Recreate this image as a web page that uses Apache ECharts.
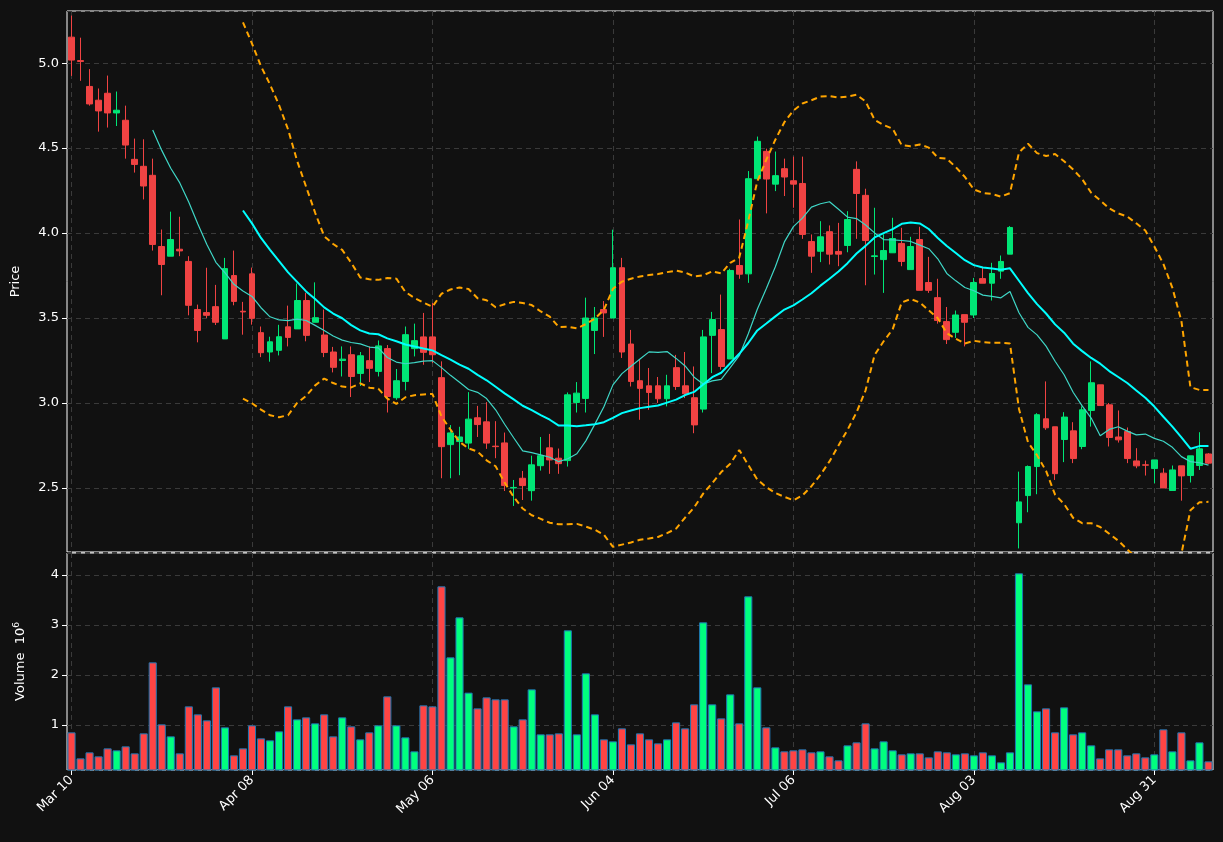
<!DOCTYPE html>
<html><head><meta charset="utf-8">
<script src="https://cdn.jsdelivr.net/npm/echarts@6/dist/echarts.min.js"></script>
<style>html,body{margin:0;padding:0;background:#111111;}#c{width:1223px;height:842px;}</style>
</head><body><div id="c"></div>
<script>
const tickLabels = ['Mar 10','Apr 08','May 06','Jun 04','Jul 06','Aug 03','Aug 31'];
const opens = [5.153,5.015,4.863,4.782,4.823,4.707,4.664,4.434,4.393,4.340,3.921,3.864,3.905,3.833,3.550,3.532,3.567,3.377,3.750,3.540,
3.760,3.414,3.300,3.310,3.448,3.436,3.603,3.475,3.400,3.300,3.250,3.284,3.174,3.249,3.186,3.320,3.031,3.127,3.320,3.389,
3.389,3.149,2.755,2.773,2.764,2.913,2.889,2.746,2.765,2.500,2.557,2.484,2.631,2.736,2.675,2.661,3.003,3.027,3.427,3.550,
3.500,3.796,3.347,3.131,3.101,3.101,3.025,3.208,3.101,3.031,2.964,3.398,3.432,3.259,3.809,3.760,4.320,4.481,4.288,4.379,
4.308,4.292,3.950,3.893,4.008,3.892,3.927,4.375,4.222,3.862,3.844,3.884,3.939,3.785,3.962,3.709,3.620,3.479,3.416,3.520,
3.518,3.732,3.705,3.776,3.876,2.295,2.455,2.626,2.907,2.860,2.785,2.836,2.744,2.956,3.107,2.989,2.800,2.832,2.659,2.636,
2.614,2.587,2.485,2.630,2.573,2.632,2.700];
const closes = [5.018,5.010,4.760,4.719,4.707,4.723,4.518,4.404,4.277,3.933,3.815,3.962,3.895,3.575,3.427,3.516,3.475,3.791,3.598,3.536,
3.498,3.296,3.360,3.390,3.386,3.603,3.398,3.502,3.297,3.210,3.258,3.156,3.278,3.204,3.336,3.038,3.131,3.402,3.367,3.298,
3.284,2.743,2.824,2.800,2.905,2.873,2.764,2.743,2.514,2.503,2.514,2.636,2.690,2.665,2.643,3.048,3.058,3.500,3.500,3.530,
3.796,3.300,3.127,3.086,3.062,3.025,3.101,3.097,3.054,2.871,3.389,3.491,3.215,3.780,3.758,4.320,4.540,4.318,4.338,4.330,
4.288,3.992,3.864,3.978,3.876,3.876,4.080,4.233,3.956,3.866,3.897,3.968,3.833,3.921,3.663,3.663,3.486,3.373,3.518,3.475,
3.709,3.705,3.762,3.833,4.033,2.418,2.626,2.931,2.854,2.584,2.917,2.673,2.960,3.119,2.985,2.797,2.783,2.673,2.630,2.634,
2.665,2.500,2.606,2.571,2.689,2.730,2.646];
const highs = [5.280,5.150,4.965,4.851,4.927,4.833,4.750,4.556,4.552,4.438,4.021,4.126,4.096,3.864,3.579,3.796,3.695,3.854,3.897,3.595,
3.797,3.450,3.390,3.460,3.573,3.703,3.648,3.710,3.550,3.330,3.333,3.333,3.300,3.333,3.368,3.341,3.200,3.450,3.467,3.530,
3.589,3.245,2.870,2.860,3.064,2.983,3.005,2.893,2.826,2.547,2.600,2.690,2.800,2.818,2.732,3.062,3.123,3.620,3.565,3.600,
4.020,3.854,3.430,3.255,3.206,3.153,3.166,3.283,3.300,3.215,3.430,3.536,3.638,3.790,4.080,4.365,4.568,4.497,4.480,4.438,
4.450,4.450,3.992,4.070,4.045,4.060,4.129,4.422,4.261,4.149,3.992,4.090,4.031,3.978,4.037,3.860,3.731,3.565,3.544,3.520,
3.736,3.796,3.825,3.868,4.041,2.596,2.632,2.940,3.127,2.860,2.946,2.887,2.980,3.245,3.107,3.000,2.956,2.856,2.734,2.661,
2.665,2.616,2.632,2.630,2.689,2.828,2.705];
const lows = [4.925,4.896,4.750,4.597,4.621,4.630,4.438,4.356,4.198,3.897,3.634,3.864,3.864,3.516,3.357,3.500,3.459,3.377,3.575,3.402,
3.461,3.270,3.243,3.280,3.333,3.436,3.363,3.475,3.270,3.180,3.156,3.035,3.100,3.123,3.156,2.944,3.019,3.074,3.274,3.225,
3.235,2.557,2.557,2.575,2.730,2.800,2.730,2.675,2.482,2.394,2.429,2.425,2.602,2.583,2.583,2.626,2.944,2.944,3.288,3.389,
3.500,3.265,3.097,2.901,2.960,3.000,2.980,3.077,3.029,2.822,2.944,3.176,3.196,3.259,3.731,3.707,4.320,4.116,4.247,4.218,
4.149,3.966,3.766,3.829,3.815,3.805,3.887,3.966,3.693,3.756,3.648,3.884,3.805,3.785,3.663,3.648,3.467,3.347,3.383,3.333,
3.500,3.705,3.603,3.731,3.876,2.144,2.357,2.463,2.842,2.547,2.652,2.646,2.728,2.861,2.985,2.744,2.767,2.646,2.616,2.573,
2.528,2.500,2.485,2.425,2.532,2.606,2.640];
const volumes = [0.853,0.333,0.453,0.373,0.533,0.493,0.573,0.433,0.833,2.253,1.013,0.773,0.433,1.373,1.213,1.093,1.753,0.953,0.393,0.533,
0.993,0.733,0.693,0.873,1.373,1.113,1.153,1.033,1.213,0.773,1.153,0.973,0.713,0.853,0.993,1.573,0.993,0.753,0.473,1.393,
1.373,3.773,2.353,3.153,1.647,1.333,1.553,1.513,1.513,0.973,1.113,1.713,0.813,0.813,0.833,2.893,0.813,2.033,1.213,0.713,
0.673,0.933,0.613,0.833,0.713,0.633,0.713,1.053,0.933,1.413,3.053,1.413,1.133,1.613,1.033,3.573,1.753,0.953,0.553,0.473,
0.493,0.513,0.453,0.473,0.373,0.293,0.593,0.653,1.033,0.533,0.673,0.493,0.413,0.433,0.433,0.353,0.473,0.453,0.413,0.433,
0.393,0.453,0.393,0.253,0.453,4.033,1.813,1.273,1.333,0.853,1.353,0.813,0.853,0.593,0.333,0.513,0.513,0.393,0.433,0.353,
0.413,0.913,0.473,0.853,0.293,0.653,0.273];

const N = closes.length;
const cats = closes.map((_, i) => i);
function sma(p){ return closes.map((_, i) => { if (i < p-1) return '-'; let s=0; for(let k=i-p+1;k<=i;k++) s+=closes[k]; return s/p; }); }
const ma10 = sma(10), ma20 = sma(20);
const upper = [], lower = [];
for (let i=0;i<N;i++){
  if (i<19){upper.push('-');lower.push('-');continue;}
  let m=ma20[i], s=0; for(let k=i-19;k<=i;k++) s+=(closes[k]-m)**2;
  const sd=Math.sqrt(s/19); upper.push(m+2*sd); lower.push(m-2*sd);
}
const UP='#00e676', DN='#f04343', VUP='#00ff7f', VDN='#ff4444';
const kdata = cats.map(i => [opens[i], closes[i], lows[i], highs[i]]);
const vdata = cats.map(i => ({value: volumes[i], itemStyle:{color: closes[i]>=opens[i]?VUP:VDN}}));
const labelIdx = {}; tickLabels.forEach((t,k)=>labelIdx[k*20]=t);
const font = 'DejaVu Sans';
const gridLineStyle = {color:'#3a3a3a', type:[5,4], width:1};
const chart = echarts.init(document.getElementById('c'));
chart.setOption({
  backgroundColor:'#111111', animation:false,
  textStyle:{fontFamily:font},
  grid:[
    {left:67, right:10, top:11, height:541, show:true, borderColor:'#ffffff', borderWidth:1},
    {left:67, right:10, top:553, height:217, show:true, borderColor:'#ffffff', borderWidth:1}
  ],
  xAxis:[
    {type:'category', gridIndex:0, data:cats, boundaryGap:true,
     axisLine:{show:false}, axisTick:{show:false}, axisLabel:{show:false},
     splitLine:{show:true, alignWithLabel:true, interval:(i)=>i%20===0, lineStyle:gridLineStyle}},
    {type:'category', gridIndex:1, data:cats, boundaryGap:true,
     axisLine:{show:false},
     axisTick:{show:true, alignWithLabel:true, interval:(i)=>i%20===0, length:5, lineStyle:{color:'#ffffff'}},
     axisLabel:{show:true, interval:(i)=>i%20===0, formatter:(v,i)=>labelIdx[i]||'', rotate:45, color:'#ffffff', fontSize:13, fontFamily:font, margin:8},
     splitLine:{show:true, alignWithLabel:true, interval:(i)=>i%20===0, lineStyle:gridLineStyle}}
  ],
  yAxis:[
    {type:'value', gridIndex:0, min:2.123, max:5.307, splitNumber:6, name:'Price', nameLocation:'middle', nameGap:45,
     nameTextStyle:{color:'#ffffff', fontSize:13, fontFamily:font},
     axisLine:{show:false}, axisTick:{show:true, length:5, lineStyle:{color:'#ffffff'}},
     axisLabel:{color:'#ffffff', fontSize:13, fontFamily:font, showMinLabel:false, showMaxLabel:false, formatter:v=>v.toFixed(1)},
     splitLine:{show:true, lineStyle:gridLineStyle}},
    {type:'value', gridIndex:1, min:0.1, max:4.44, splitNumber:4, name:'Volume  10{sup|6}', nameLocation:'middle', nameGap:38,
     nameTextStyle:{color:'#ffffff', fontSize:13, fontFamily:font, rich:{sup:{fontSize:9, color:'#ffffff', verticalAlign:'top', padding:[0,0,8,0]}}},
     axisLine:{show:false}, axisTick:{show:true, length:5, lineStyle:{color:'#ffffff'}},
     axisLabel:{color:'#ffffff', fontSize:13, fontFamily:font, showMinLabel:false, showMaxLabel:false, formatter:v=>String(Math.round(v))},
     splitLine:{show:true, lineStyle:gridLineStyle}}
  ],
  series:[
    {type:'candlestick', xAxisIndex:0, yAxisIndex:0, data:kdata, barWidth:'70%',
     itemStyle:{color:UP, color0:DN, borderColor:UP, borderColor0:DN, borderWidth:1}},
    {type:'line', xAxisIndex:0, yAxisIndex:0, data:ma10, showSymbol:false, lineStyle:{color:'#3fd6c6', width:1.2}, z:3},
    {type:'line', xAxisIndex:0, yAxisIndex:0, data:ma20, showSymbol:false, lineStyle:{color:'#00ffff', width:2}, z:3},
    {type:'line', xAxisIndex:0, yAxisIndex:0, data:upper, showSymbol:false, lineStyle:{color:'#ffa500', width:2, type:[6,4]}, z:3},
    {type:'line', xAxisIndex:0, yAxisIndex:0, data:lower, showSymbol:false, lineStyle:{color:'#ffa500', width:2, type:[6,4]}, z:3},
    {type:'bar', xAxisIndex:1, yAxisIndex:1, data:vdata, barWidth:'90%', itemStyle:{borderColor:'#1f77b4', borderWidth:1}}
  ]
});
</script></body></html>
